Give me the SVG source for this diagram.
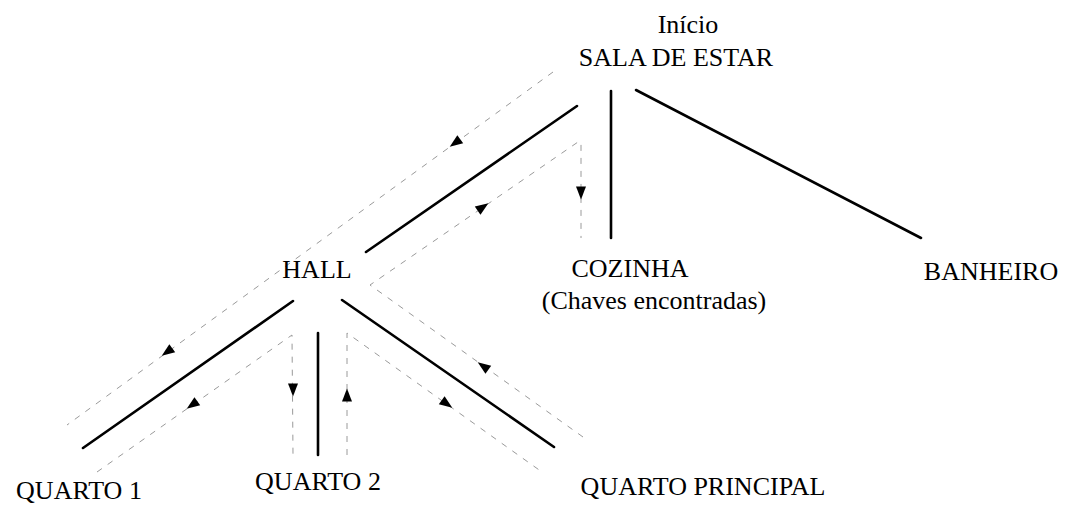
<svg xmlns="http://www.w3.org/2000/svg" width="1067" height="505" viewBox="0 0 1067 505">
<style>
text{font-family:"Liberation Serif","Times New Roman","DejaVu Serif",serif;font-size:26px;fill:#000;text-anchor:middle}
.edge{stroke:#000;stroke-width:2.6;fill:none;stroke-linecap:round}
.path{stroke:#9a9a9a;stroke-width:1;fill:none;stroke-dasharray:6 7}
</style>
<defs>
<path id="ah" d="M6.5,0 L-6.5,-5 L-6.5,5 Z" fill="#000"/>
</defs>
<rect width="1067" height="505" fill="#fff"/>
<g id="connectors">
<line class="edge" x1="577" y1="106" x2="366" y2="252"/>
<line class="edge" x1="611" y1="91" x2="611" y2="238"/>
<line class="edge" x1="636" y1="90" x2="921" y2="238"/>
<line class="edge" x1="293" y1="301" x2="83" y2="448"/>
<line class="edge" x1="318" y1="333" x2="318" y2="455"/>
<line class="edge" x1="342" y1="300" x2="554" y2="447"/>
<polyline class="path" points="553,72 67,425"/>
<polyline class="path" points="97,472 292,335 293,455"/>
<polyline class="path" points="347,455 347,333 542,472"/>
<polyline class="path" points="583,437 370,285 578,142 581,142 581,238"/>
<use href="#ah" transform="translate(455,143) rotate(144)"/>
<use href="#ah" transform="translate(167,352) rotate(144)"/>
<use href="#ah" transform="translate(192,405) rotate(145)"/>
<use href="#ah" transform="translate(293,390) rotate(90)"/>
<use href="#ah" transform="translate(347,395) rotate(-90)"/>
<use href="#ah" transform="translate(447,404) rotate(35.5)"/>
<use href="#ah" transform="translate(483,366) rotate(-145)"/>
<use href="#ah" transform="translate(483,207) rotate(-34.5)"/>
<use href="#ah" transform="translate(581,193) rotate(90)"/>
</g>
<g id="sala"><text x="688" y="33">Início</text><text x="676" y="66">SALA DE ESTAR</text></g>
<g id="hall"><text x="317" y="278">HALL</text></g>
<g id="cozinha"><text x="630" y="277">COZINHA</text><text x="654" y="309">(Chaves encontradas)</text></g>
<g id="banheiro"><text x="991" y="280">BANHEIRO</text></g>
<g id="quarto1"><text x="79" y="499">QUARTO 1</text></g>
<g id="quarto2"><text x="318" y="490">QUARTO 2</text></g>
<g id="quartoprincipal"><text x="703" y="495">QUARTO PRINCIPAL</text></g>
</svg>
